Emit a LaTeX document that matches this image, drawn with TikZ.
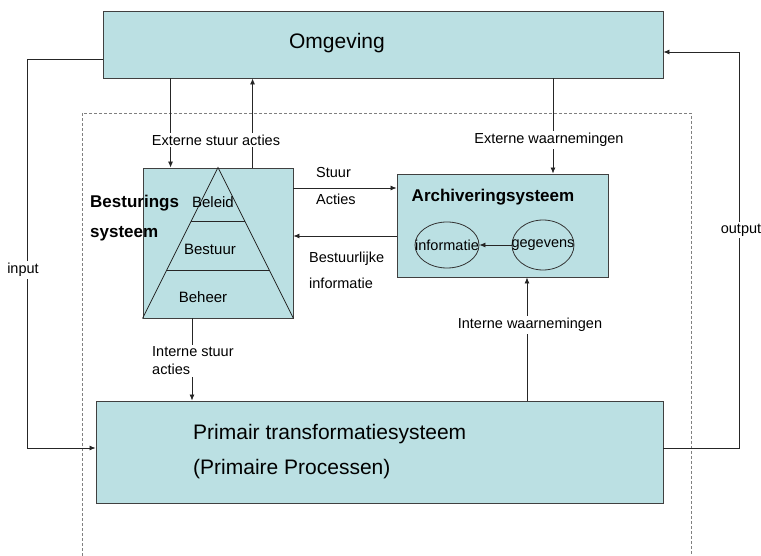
\documentclass[tikz,border=0pt]{standalone}
\usepackage{fontspec}
\setmainfont{Liberation Sans}
\usetikzlibrary{arrows.meta,positioning,shapes.geometric,calc}
\definecolor{boxblue}{RGB}{187,224,227}

\begin{document}
\begin{tikzpicture}[
    x=1pt,
    y=-1pt,
    box/.style={draw=black!75, fill=boxblue, line width=0.9pt, inner sep=0pt},
    conn/.style={black!85, line width=0.8pt},
    arr/.style={conn, -{Latex[length=6pt,width=5pt]}},
    dashbox/.style={gray, line width=0.9pt, dash pattern=on 3pt off 2pt},
    big/.style={font=\fontsize{21}{35}\selectfont, inner sep=0pt},
    head/.style={font=\fontsize{17}{30}\selectfont\bfseries, inner sep=0pt},
    mid/.style={font=\fontsize{15}{17}\selectfont, inner sep=0pt},
    txt/.style={font=\fontsize{14.5}{17}\selectfont, inner sep=0pt},
    lab/.style={txt, fill=white, inner sep=2pt}
  ]
    \useasboundingbox (0,0) rectangle (761,556);
    \draw[dashbox] (82,556) -- (82,113) -- (691,113) -- (691,556);

    \node[box, minimum width=560, minimum height=67] (omg) at (383,44.5) {};
    \node[box, minimum width=150, minimum height=150] (bst) at (218,243) {};
    \node[box, minimum width=211, minimum height=103] (arc) at (502.5,225.5) {};
    \node[box, minimum width=567, minimum height=102] (prim) at (379.5,452) {};

    \draw[conn] (bst.south west) -- (bst.north) -- (bst.south east);
    \draw[conn] ($(bst.north)!0.36!(bst.south west)$) -- ($(bst.north)!0.36!(bst.south east)$);
    \draw[conn] ($(bst.north)!0.68!(bst.south west)$) -- ($(bst.north)!0.68!(bst.south east)$);

    \node[big] (omgtxt) at (337,43) {Omgeving};
    \node[big, anchor=west, align=left] (primtxt) at (193,452) {Primair transformatiesysteem\\(Primaire Processen)};
    \node[mid] (beleid) at (213,202) {Beleid};
    \node[mid] (bestuur) at (210,249) {Bestuur};
    \node[mid] (beheer) at (203,297) {Beheer};
    \node[head, anchor=west, align=left] (bsttxt) at (90,218) {Besturings\\systeem};
    \node[head] (arctxt) at (493,197) {Archiveringsysteem};

    \node[draw=black!80, line width=0.8pt, ellipse, minimum width=64, minimum height=46,
      label={[txt]center:informatie}] (inf) at (447,245) {};
    \node[draw=black!80, line width=0.8pt, ellipse, minimum width=62, minimum height=50,
      label={[txt]center:gegevens}] (geg) at (543,245) {};
    \draw[arr] (geg.west) -- (inf.east);

    \path ([xshift=28]bst.north west) coordinate (es1)
          ([xshift=110]bst.north west) coordinate (es2);
    \coordinate (ew) at (553,0);
    \coordinate (sa) at (0,188);
    \coordinate (bi) at (0,236);
    \coordinate (iw) at (527,0);
    \coordinate (is) at (192,0);
    \coordinate (inT) at (27,59);
    \coordinate (inB) at (27,448);
    \coordinate (outB) at (739,448);
    \coordinate (outT) at (739,52);

    \draw[arr] (omg.south -| es1) -- (es1);
    \draw[arr] (es2) -- (omg.south -| es2);
    \draw[arr] (omg.south -| ew) -- (arc.north -| ew);
    \draw[arr] (bst.east |- sa) -- (arc.west |- sa);
    \draw[arr] (arc.west |- bi) -- (bst.east |- bi);
    \draw[arr] (prim.north -| iw) -- (arc.south -| iw);
    \draw[arr] (bst.south -| is) -- (prim.north -| is);
    \draw[arr] (omg.west |- inT) -- (inT) -- (inB) -- (prim.west |- inB);
    \draw[arr] (prim.east |- outB) -- (outB) -- (outT) -- (omg.east |- outT);

    \node[lab] (esal) at (216,140) {Externe stuur acties};
    \node[lab] (ewl) at (549,140) {Externe waarnemingen};
    \node[lab] (iwl) at (530,325) {Interne waarnemingen};
    \node[lab, align=left, anchor=west, font=\fontsize{14.5}{18}\selectfont] (isl) at (150,361) {Interne stuur\\acties};
    \node[lab] (inl) at (23,270) {input};
    \node[lab] (outl) at (741,230) {output};
    \node[txt, align=left, anchor=west, font=\fontsize{14.5}{27}\selectfont] (sal) at (316,186) {Stuur\\Acties};
    \node[txt, align=left, anchor=west, font=\fontsize{14.5}{26}\selectfont] (bil) at (309,270) {Bestuurlijke\\informatie};
  \end{tikzpicture}
\end{document}
